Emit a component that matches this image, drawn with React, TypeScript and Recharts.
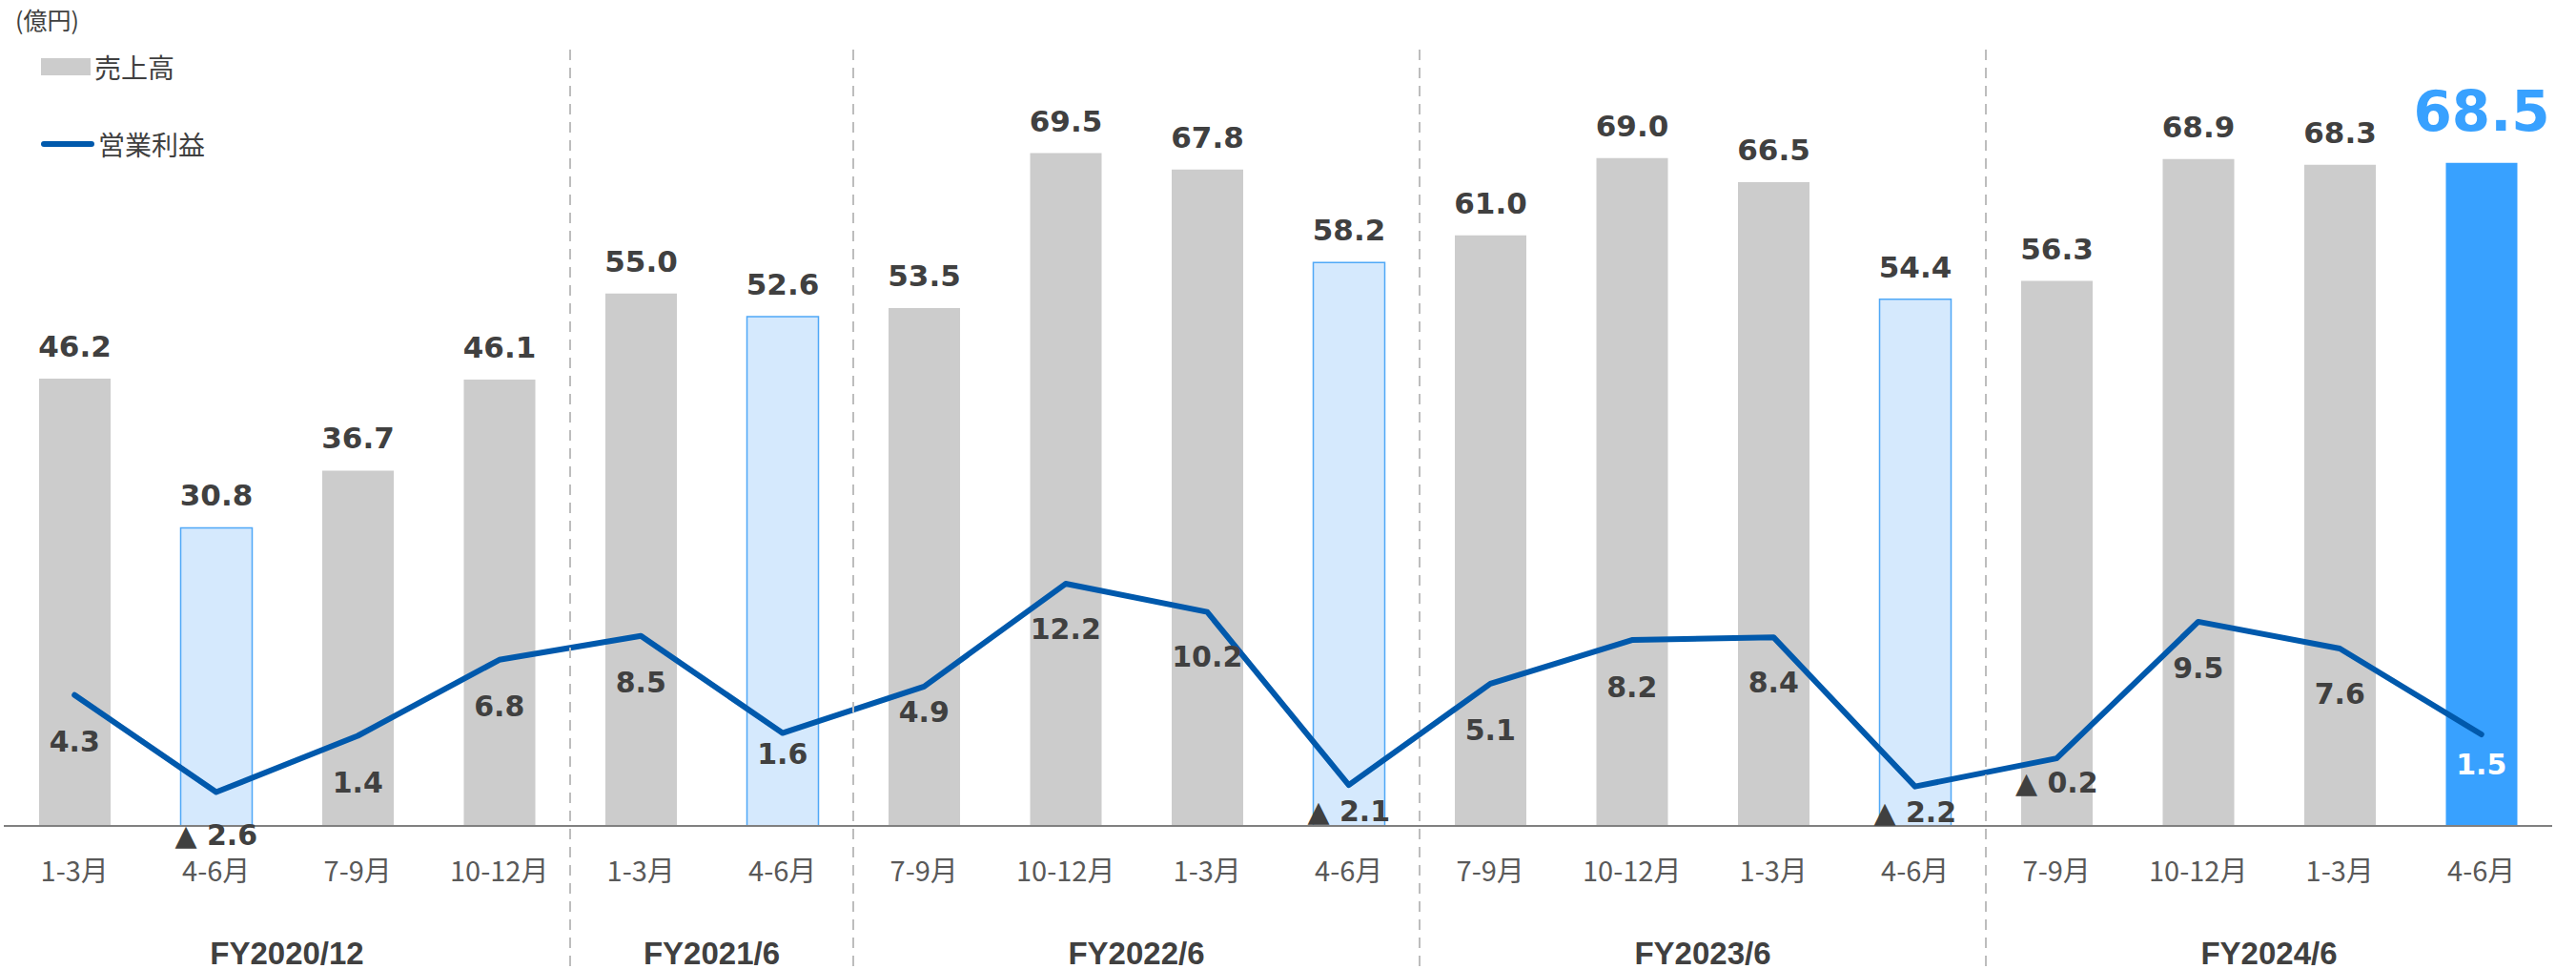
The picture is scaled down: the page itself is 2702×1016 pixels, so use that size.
import React from "react";
import {
  Bar,
  Cell,
  ComposedChart,
  LabelList,
  Line,
  ReferenceLine,
  XAxis,
  YAxis,
} from "recharts";

const QUARTERS = [
  "1-3月", "4-6月", "7-9月", "10-12月",
  "1-3月", "4-6月",
  "7-9月", "10-12月", "1-3月", "4-6月",
  "7-9月", "10-12月", "1-3月", "4-6月",
  "7-9月", "10-12月", "1-3月", "4-6月",
];
const SALES = [
  46.2, 30.8, 36.7, 46.1, 55.0, 52.6, 53.5, 69.5, 67.8, 58.2, 61.0, 69.0, 66.5,
  54.4, 56.3, 68.9, 68.3, 68.5,
];
const PROFIT = [
  4.3, -2.6, 1.4, 6.8, 8.5, 1.6, 4.9, 12.2, 10.2, -2.1, 5.1, 8.2, 8.4, -2.2,
  -0.2, 9.5, 7.6, 1.5,
];
const FY_LABELS = ["FY2020/12", "FY2021/6", "FY2022/6", "FY2023/6", "FY2024/6"];
const FY_SIZES = [4, 2, 4, 4, 4];
const SERIES_NAMES = ["売上高", "営業利益"];

// px below each profit point where its label is centred (hand placed in the original)
const PROFIT_LABEL_DY = [
  49, 45, 49, 49, 49, 22, 27, 47, 47, 27, 49, 49, 47, 27, 25, 49, 48, 31,
];

const COLORS = {
  bar: "#CCCCCC",
  q2Fill: "#D5E9FD",
  q2Stroke: "#4FA8F7",
  current: "#38A1FF",
  line: "#0059AC",
  text: "#404040",
  tick: "#595959",
  axis: "#808080",
  sep: "#BDBDBD",
};

const data = QUARTERS.map((q, i) => ({
  key: `p${i}`,
  quarter: q,
  sales: SALES[i],
  profit: PROFIT[i],
}));

const LAST = data.length - 1;
const groupStarts = FY_SIZES.map((_, g) =>
  FY_SIZES.slice(0, g).reduce((a, b) => a + b, 0)
);

function QuarterTick(props: any) {
  const { x, y, payload } = props;
  const index = payload?.index ?? props.index;
  const half = payload?.offset ?? 0;
  const g = groupStarts.findIndex(
    (s, gi) => index === s + FY_SIZES[gi] / 2 - 1
  );
  return (
    <g>
      <text
        x={x}
        y={y + 9}
        textAnchor="middle"
        dominantBaseline="central"
        fontFamily="Noto Sans CJK JP"
        fontSize={29}
        fill={COLORS.tick}
      >
        {QUARTERS[index]}
      </text>
      {g >= 0 && (
        <text
          x={x + half}
          y={y + 97}
          textAnchor="middle"
          dominantBaseline="central"
          fontFamily="Liberation Sans"
          fontWeight="bold"
          fontSize={33}
          fill={COLORS.text}
        >
          {FY_LABELS[g]}
        </text>
      )}
    </g>
  );
}

function SalesLabel(props: any) {
  const { x, y, width, value, index } = props;
  const last = index === LAST;
  return (
    <text
      x={Number(x) + Number(width) / 2}
      y={Number(y) - (last ? 34 : 23)}
      textAnchor="middle"
      fontFamily="DejaVu Sans"
      fontWeight="bold"
      fontSize={last ? 58 : 31}
      fill={last ? COLORS.current : COLORS.text}
    >
      {Number(value).toFixed(1)}
    </text>
  );
}

function ProfitLabel(props: any) {
  const { x, y, value, index } = props;
  const v = Number(value);
  const label = v < 0 ? `▲ ${Math.abs(v).toFixed(1)}` : v.toFixed(1);
  return (
    <text
      x={x}
      y={Number(y) + PROFIT_LABEL_DY[index]}
      textAnchor="middle"
      dominantBaseline="central"
      fontFamily="DejaVu Sans"
      fontWeight="bold"
      fontSize={30}
      fill={index === LAST ? "#FFFFFF" : COLORS.text}
    >
      {label}
    </text>
  );
}

function LegendBox() {
  return (
    <div
      style={{
        position: "absolute",
        left: 43,
        top: 52,
        display: "flex",
        flexDirection: "column",
        gap: 45,
        zIndex: 2,
      }}
    >
      {SERIES_NAMES.map((name, i) => (
        <div
          key={name}
          style={{ display: "flex", alignItems: "center", height: 36 }}
        >
          {i === 1 ? (
            <span
              style={{
                width: 56,
                height: 6,
                borderRadius: 3,
                background: COLORS.line,
              }}
            />
          ) : (
            <span style={{ width: 52, height: 18, background: COLORS.bar }} />
          )}
          <span
            style={{
              marginLeft: 4,
              fontFamily: "Noto Sans CJK JP",
              fontSize: 28,
              color: COLORS.text,
            }}
          >
            {name}
          </span>
        </div>
      ))}
    </div>
  );
}

function separator(p: any) {
  const top = Math.min(p.y1, p.y2);
  const bottom = Math.max(p.y1, p.y2);
  return (
    <line
      x1={p.x1}
      x2={p.x2}
      y1={top - 2}
      y2={bottom + 150}
      stroke={COLORS.sep}
      strokeWidth={2}
      strokeDasharray="11 8"
    />
  );
}

export default function App() {
  return (
    <div style={{ position: "relative", width: 2702, height: 1016, background: "#fff" }}>
      <style>{"body{margin:0}"}</style>
      <div
        style={{
          position: "absolute",
          left: 16,
          top: 3,
          lineHeight: "34px",
          fontFamily: "Noto Sans CJK JP",
          fontSize: 25,
          color: COLORS.text,
        }}
      >
        (億円)
      </div>
      <LegendBox />
      <ComposedChart
        width={2702}
        height={1016}
        data={data}
        margin={{ top: 54, right: 25, bottom: 0, left: 4 }}
      >
        <XAxis
          dataKey="key"
          height={150}
          interval={0}
          tickLine={false}
          tickSize={0}
          tickMargin={36}
          axisLine={{ stroke: COLORS.axis, strokeWidth: 2 }}
          tick={<QuarterTick />}
        />
        <YAxis yAxisId="bar" hide domain={[0, 80]} />
        <YAxis yAxisId="line" hide domain={[-5, 50]} />
        <Bar
          yAxisId="bar"
          dataKey="sales"
          name={SERIES_NAMES[0]}
          fill={COLORS.bar}
          barSize={75}
          isAnimationActive={false}
        >
          {data.map((d, i) => {
            const current = i === LAST;
            const q2 = !current && d.quarter === "4-6月";
            return (
              <Cell
                key={d.key}
                fill={current ? COLORS.current : q2 ? COLORS.q2Fill : COLORS.bar}
                stroke={q2 ? COLORS.q2Stroke : "none"}
                strokeWidth={q2 ? 1.5 : 0}
              />
            );
          })}
          <LabelList dataKey="sales" content={<SalesLabel />} />
        </Bar>
        <Line
          yAxisId="line"
          dataKey="profit"
          name={SERIES_NAMES[1]}
          type="linear"
          stroke={COLORS.line}
          strokeWidth={6}
          strokeLinejoin="round"
          strokeLinecap="round"
          dot={false}
          activeDot={false}
          isAnimationActive={false}
        >
          <LabelList dataKey="profit" content={<ProfitLabel />} />
        </Line>
        {groupStarts.slice(1).map((s) => (
          <ReferenceLine
            key={s}
            yAxisId="bar"
            x={data[s].key}
            position="start"
            shape={separator}
          />
        ))}
      </ComposedChart>
    </div>
  );
}
